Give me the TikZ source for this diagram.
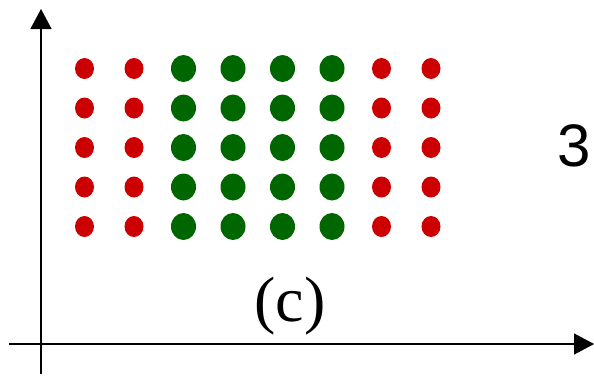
\documentclass[tikz,border=0pt]{standalone}
\usepackage{fontspec}
\setmainfont{Liberation Serif}
\newfontfamily\labelsans{Liberation Sans}
\usetikzlibrary{arrows.meta,shapes.geometric}
\definecolor{DotRed}{HTML}{CC0000}
\definecolor{DotGreen}{HTML}{006600}
\tikzset{
  smalldot/.style={
    ellipse, fill=DotRed, minimum width=19pt, minimum height=21pt, inner sep=0pt
  },
  bigdot/.style={
    ellipse, fill=DotGreen, minimum width=25pt, minimum height=27pt, inner sep=0pt
  },
  axis/.style={-{Triangle[length=20pt,width=21pt]}, line width=1.5pt, draw=black}
}

\begin{document}
\begin{tikzpicture}[x=1pt,y=-1pt]
    \useasboundingbox (0,0) rectangle (594,375);
    % axes
    \coordinate (yfoot) at (41,374);
    \coordinate (ytop) at (41,9);
    \coordinate (xfoot) at (9,344);
    \coordinate (xtip) at (594,344);
    \draw[axis] (yfoot)--(ytop);
    \draw[axis] (xfoot)--(xtip);
    % dots
    \foreach \r/\y in {1/68.5,2/108,3/147.5,4/187,5/226.5}{
      \foreach \c/\x in {1/84.5,2/134,8/431,7/381.5}{
        \node[smalldot] (d\r\c) at (\x,\y) {};
      }
      \foreach \c/\x in {3/183.5,4/233,5/282.5,6/332}{
        \node[bigdot] (d\r\c) at (\x,\y) {};
      }
    }
    % labels
    \node[font=\fontsize{64}{64}\selectfont] (caption) at (290,306) {(c)};
    \node[font=\labelsans\fontsize{60}{60}\selectfont] (count) at (574,146) {3};
  \end{tikzpicture}
\end{document}
